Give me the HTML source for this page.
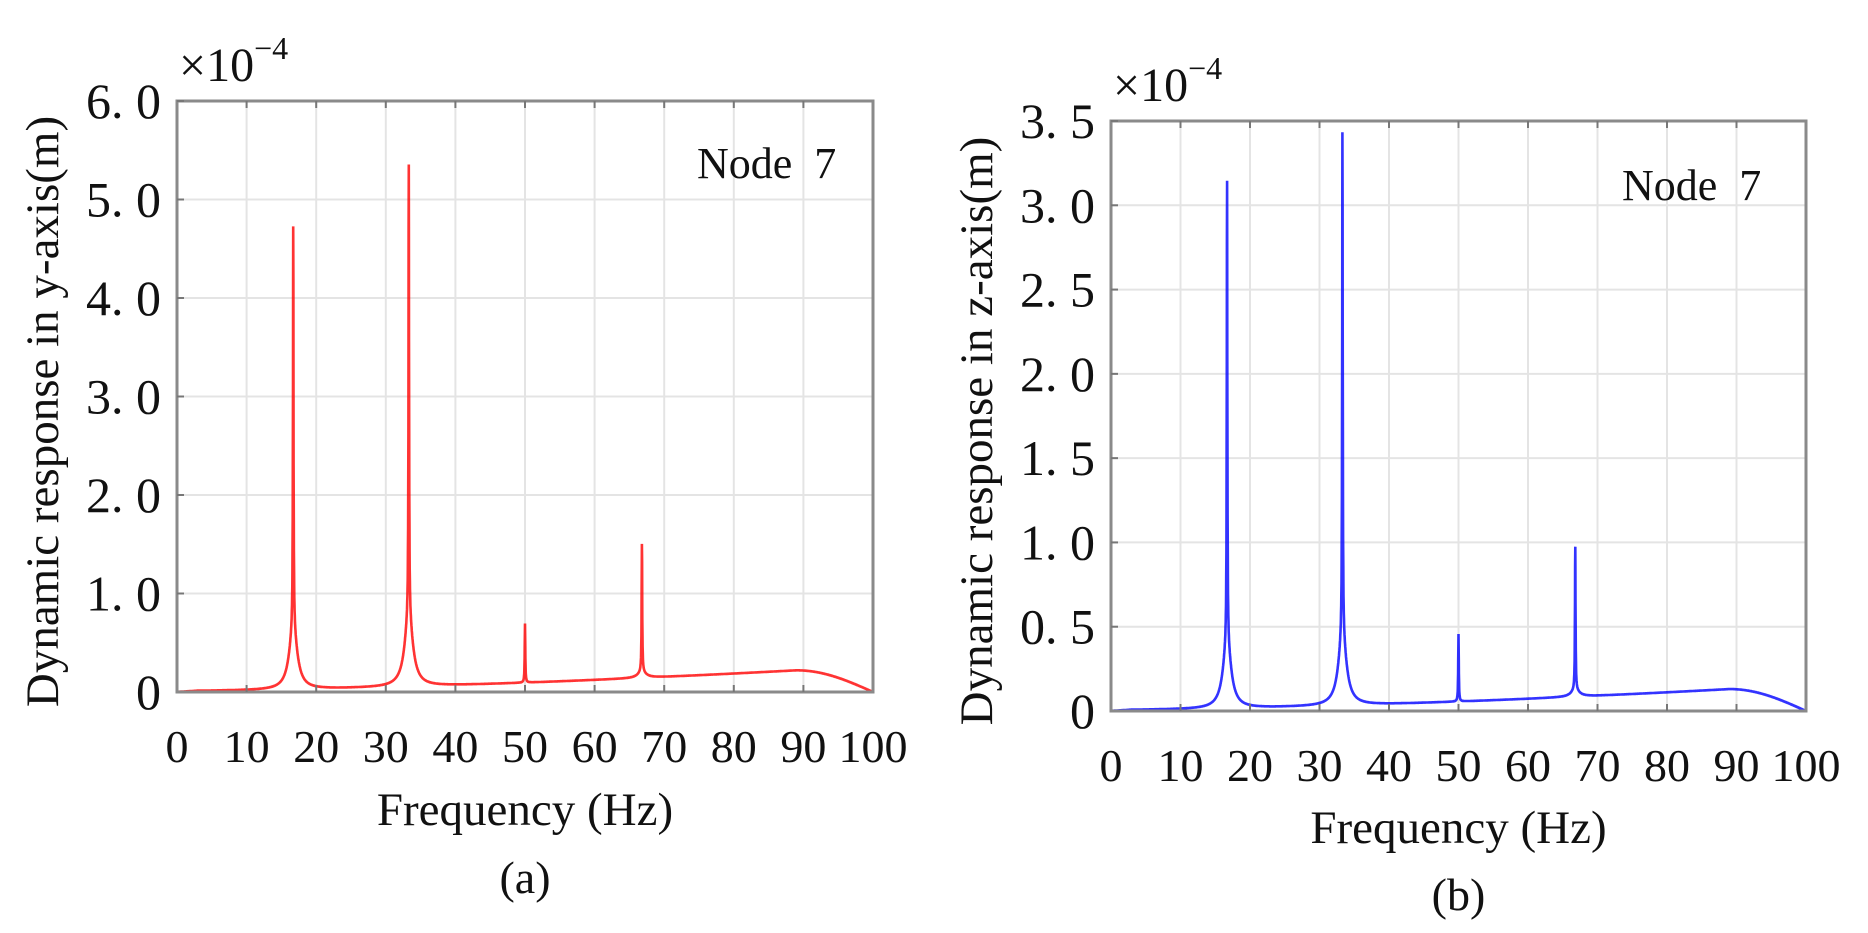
<!DOCTYPE html>
<html><head><meta charset="utf-8"><style>
html,body{margin:0;padding:0;background:#fff;}
svg text{font-family:"Liberation Serif","Noto Serif CJK SC",serif;fill:#111;white-space:pre;}
</style></head><body>
<svg id="s" width="1868" height="928" viewBox="0 0 1868 928" xmlns="http://www.w3.org/2000/svg"></svg>
<script>
const S=document.getElementById('s');
let out='';
function plot(L,T,R,B,ymax,ystep,ylabels,color,peaks,hump,ylab,cap,capY,freqY,nodeX,nodeY,ylabX){
  const W=R-L,H=B-T;
  const X=f=>L+f/100*W, Y=v=>B-v/ymax*H;
  for(let i=1;i<10;i++){out+=`<line x1="${X(i*10)}" y1="${T}" x2="${X(i*10)}" y2="${B}" stroke="#e4e4e4" stroke-width="2"/>`;}
  for(let k=1;k<ylabels.length;k++){const y=Y(k*ystep);if(y>T+1)out+=`<line x1="${L}" y1="${y}" x2="${R}" y2="${y}" stroke="#e4e4e4" stroke-width="2"/>`;}
  let d='';
  for(let f=0;f<=100.0001;f+=0.02){
    let b;
    if(f<89) b=hump*(0.05+0.95*Math.pow(f/89,1.6)); else b=hump*Math.max(0,Math.cos((f-89)/11*Math.PI/2));
    if(f<3) b*=f/3;
    let v=b;
    for(const p of peaks){const dx=f-p[0];v+=p[1]*0.0025/(dx*dx+0.0025)+p[2]*0.5/(dx*dx+0.5);}
    d+=(d?'L':'M')+X(f).toFixed(1)+','+Y(Math.min(v,ymax)).toFixed(1);
  }
  out+=`<path d="${d}" fill="none" stroke="${color}" stroke-width="2.6" stroke-opacity="0.8"/>`;
  out+=`<rect x="${L}" y="${T}" width="${W}" height="${H}" fill="none" stroke="#8a8a8a" stroke-width="3"/>`;
  for(let i=1;i<10;i++){out+=`<line x1="${X(i*10)}" y1="${T}" x2="${X(i*10)}" y2="${T+7}" stroke="#777" stroke-width="2"/><line x1="${X(i*10)}" y1="${B}" x2="${X(i*10)}" y2="${B-7}" stroke="#777" stroke-width="2"/>`;}
  for(let k=1;k<ylabels.length;k++){const y=Y(k*ystep);out+=`<line x1="${L}" y1="${y}" x2="${L+7}" y2="${y}" stroke="#777" stroke-width="2"/>`;}
  for(let i=0;i<=10;i++){out+=`<text x="${X(i*10)}" y="${B+70}" font-size="46" text-anchor="middle">${i*10}</text>`;}
  for(let k=0;k<ylabels.length;k++){const y=Y(k*ystep);out+=`<text x="${L-16}" y="${y+17}" font-size="50" text-anchor="end">${ylabels[k]}</text>`;}
  out+=`<text x="${L+2}" y="${T-20}" font-size="48">×10<tspan font-size="32" dy="-22">−4</tspan></text>`;
  out+=`<text x="${nodeX}" y="${nodeY}" font-size="44">Node  7</text>`;
  out+=`<text x="${(L+R)/2}" y="${freqY}" font-size="47" text-anchor="middle">Frequency (Hz)</text>`;
  out+=`<text x="${(L+R)/2}" y="${capY}" font-size="46" text-anchor="middle">${cap}</text>`;
  out+=`<text transform="translate(${ylabX},${(T+B)/2+15}) rotate(-90)" font-size="47" text-anchor="middle">${ylab}</text>`;
}
plot(177,101,873,692,6,1,['0','1. 0','2. 0','3. 0','4. 0','5. 0','6. 0'],'#ff0000',
 [[16.7,4.1,0.6],[33.3,4.6,0.7],[50,0.6,0],[66.8,1.3,0.06]],0.22,'Dynamic response in y-axis(m)','(a)',893,825,697,178,58);
plot(1111,121,1806,711,3.5,0.5,['0','0. 5','1. 0','1. 5','2. 0','2. 5','3. 0','3. 5'],'#0000ff',
 [[16.7,2.75,0.38],[33.3,3.0,0.4],[50,0.4,0],[66.8,0.85,0.04]],0.13,'Dynamic response in z-axis(m)','(b)',910,843,1622,200,992);
S.innerHTML=out;
</script>
</body></html>
